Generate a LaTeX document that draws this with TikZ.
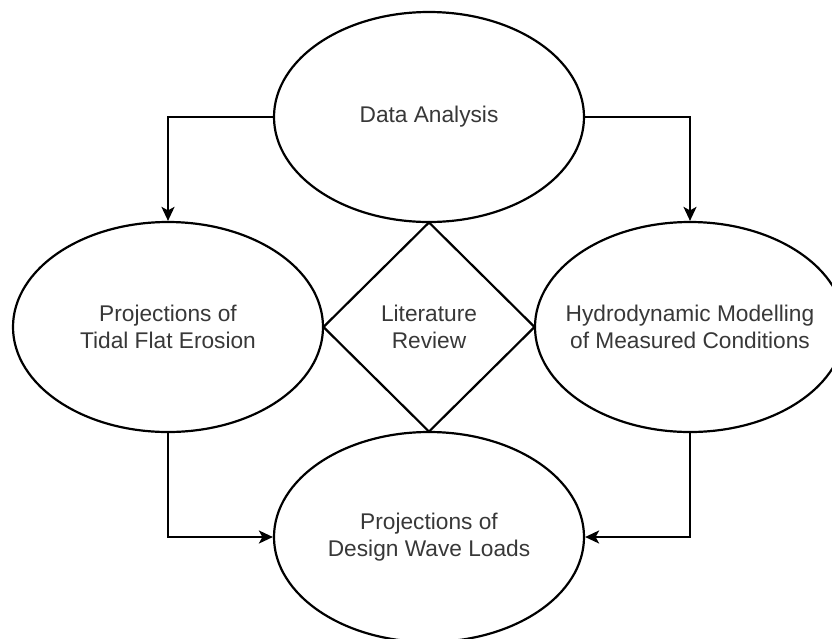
\documentclass[tikz,border=0pt]{standalone}
\usepackage{fontspec}
\setmainfont{Liberation Sans}
\usetikzlibrary{shapes.geometric,arrows.meta}
\begin{document}
\begin{tikzpicture}[x=1pt,y=-1pt,
  txt/.style={align=center, inner sep=0pt, font=\fontsize{22.7}{26.5}\selectfont, text=black!78},
  oval/.style={ellipse, draw=black, line width=2.2pt, minimum width=310pt, minimum height=210pt, inner sep=0pt,
    label={[txt]center:#1}},
  rhomb/.style={diamond, draw=black, line width=2.2pt, minimum width=212pt, minimum height=210pt, inner sep=0pt,
    label={[txt]center:#1}},
  conn/.style={line width=2.2pt, -{Stealth[length=14pt,width=13pt,inset=3.5pt]}}]
\clip (0,0) rectangle (832,638);
\fill[white] (0,0) rectangle (832,638);
\node[oval={Data Analysis}] (data) at (429,117) {};
\node[oval={Projections of\\Tidal Flat Erosion}] (tidal) at (168,327) {};
\node[oval={Hydrodynamic Modelling\\of Measured Conditions}] (hydro) at (690,327) {};
\node[oval={Projections of\\Design Wave Loads}] (design) at (429,537) {};
\node[rhomb={Literature\\Review}] (lit) at (429,327) {};
\draw[conn] (data.west) -| (tidal.north);
\draw[conn] (data.east) -| (hydro.north);
\draw[conn] (tidal.south) |- (design.west);
\draw[conn] (hydro.south) |- (design.east);
\end{tikzpicture}
\end{document}
